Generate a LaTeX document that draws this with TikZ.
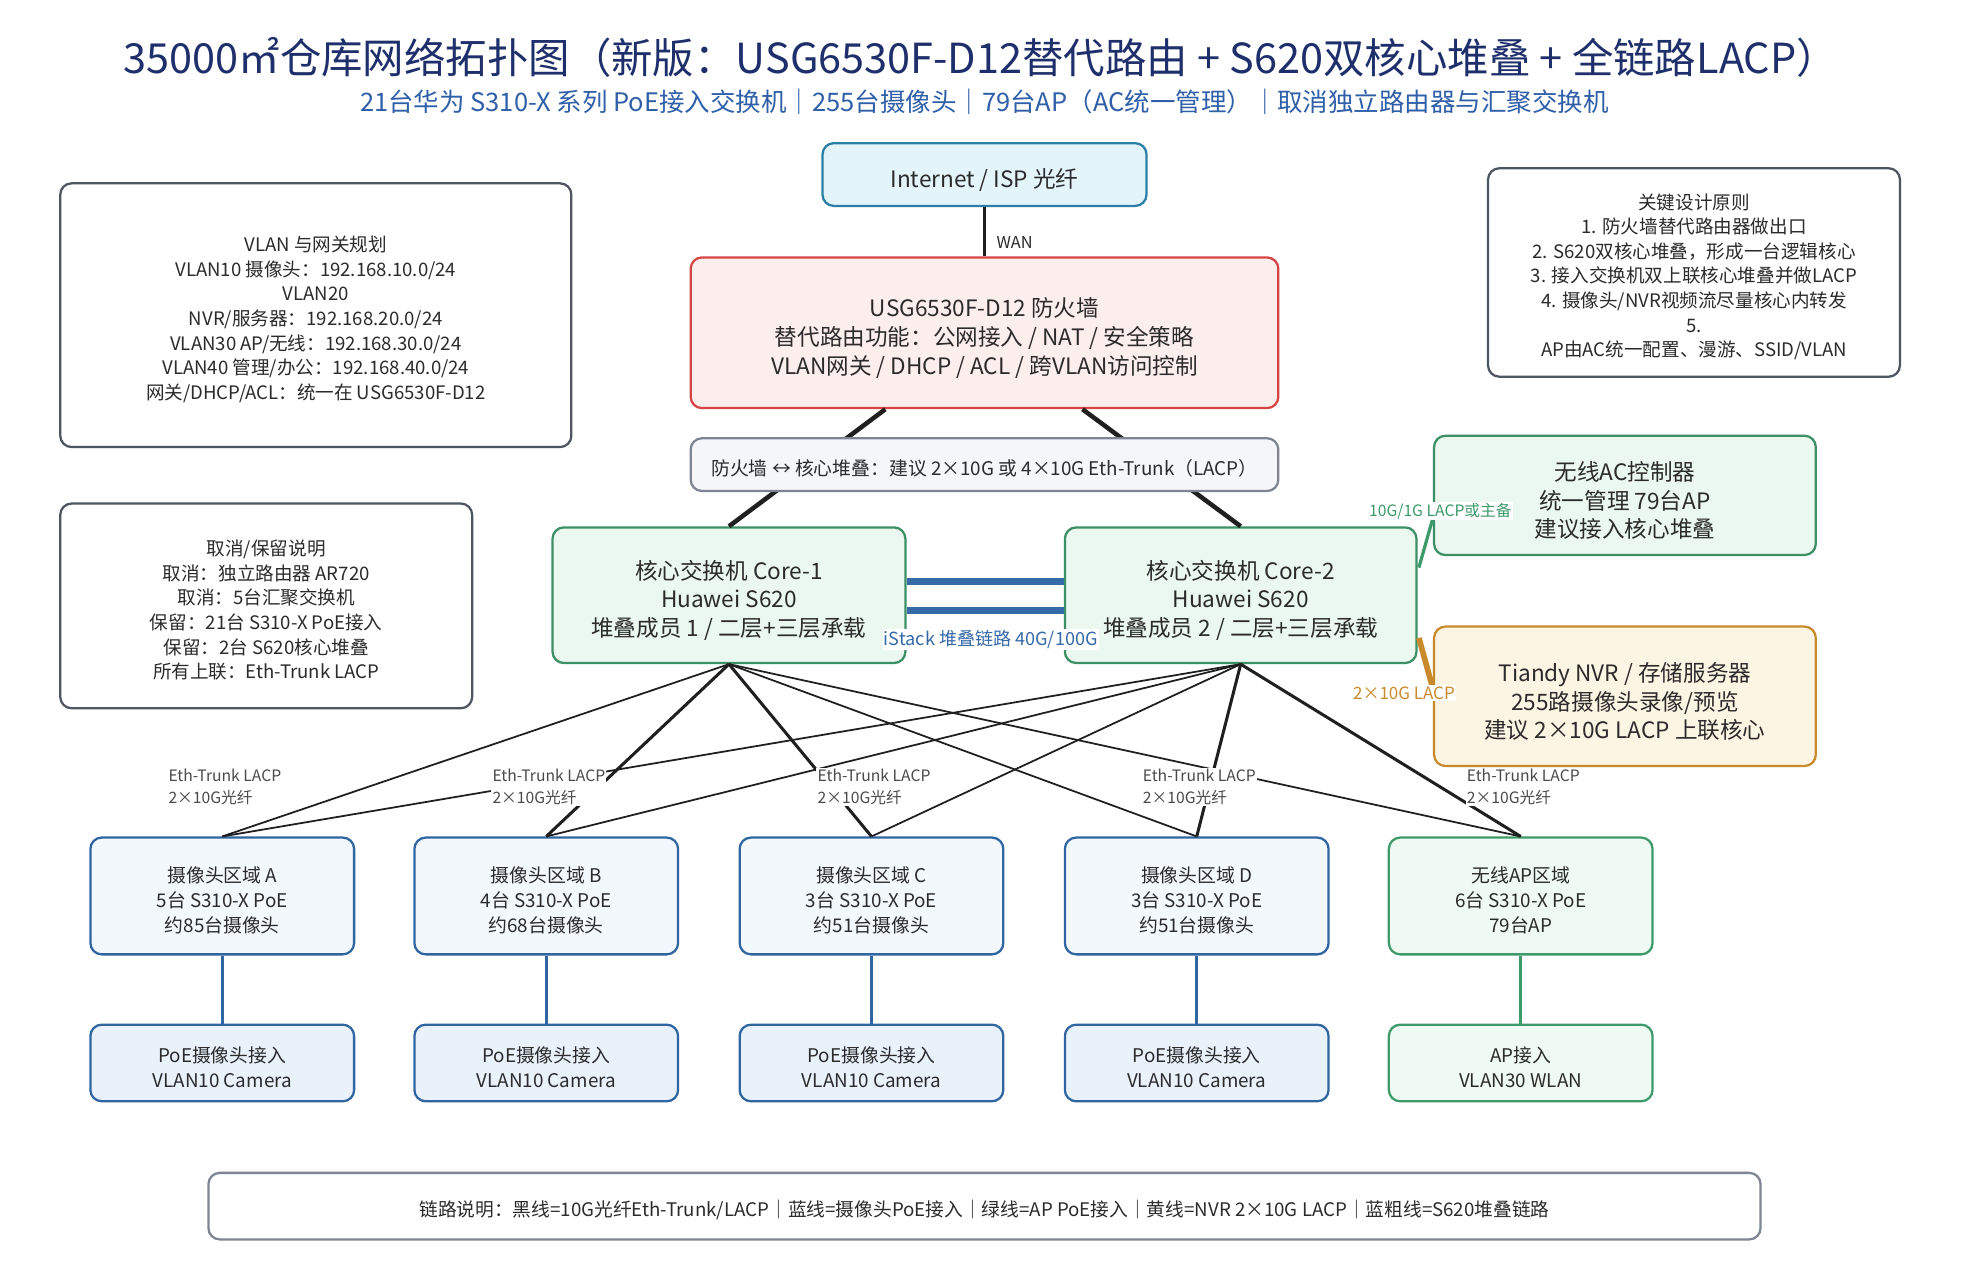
\documentclass[tikz,border=0pt]{standalone}
\usepackage{fontspec}
\setmainfont{Noto Sans CJK SC}
\usetikzlibrary{calc}
\definecolor{titlec}{HTML}{1F2F6B}
\definecolor{subc}{HTML}{2E5FA8}
\definecolor{txt}{HTML}{2B2B2B}
\definecolor{inetfill}{HTML}{E4F4FB}
\definecolor{inetedge}{HTML}{2A7FA6}
\definecolor{fwfill}{HTML}{FDEEEE}
\definecolor{fwedge}{HTML}{D64545}
\definecolor{linkfill}{HTML}{F4F6FA}
\definecolor{linkedge}{HTML}{7D8592}
\definecolor{grfill}{HTML}{EAF8F0}
\definecolor{gredge}{HTML}{3D8F66}
\definecolor{nvrfill}{HTML}{FDF5E4}
\definecolor{nvredge}{HTML}{C98A2C}
\definecolor{zonefill}{HTML}{F3F8FD}
\definecolor{accfill}{HTML}{E9F2FB}
\definecolor{zoneedge}{HTML}{2F65A0}
\definecolor{apfill}{HTML}{EEFAF2}
\definecolor{apedge}{HTML}{3D9A6A}
\definecolor{infoedge}{HTML}{4F5661}
\definecolor{stackc}{HTML}{3569A8}
\definecolor{lblc}{HTML}{4A4A4A}
\newcommand\myfs[2]{\fontsize{#1}{#2}\selectfont}
\newcommand\up{\rule{0pt}{1.3em}}
\begin{document}
\begin{tikzpicture}[x=1pt,y=-1pt,
  box/.style={draw, rounded corners=9pt, line width=1.8pt, inner sep=0pt, align=center, text=txt, font=\myfs{18}{23}},
  info/.style={box, draw=infoedge, fill=white, font=\myfs{14.8}{19.6}},
  zonebox/.style={box, draw=zoneedge, fill=zonefill, minimum width=210pt, minimum height=93pt, font=\myfs{15}{20}},
  apbox/.style={zonebox, draw=apedge, fill=apfill},
  accbox/.style={box, draw=zoneedge, fill=accfill, minimum width=210pt, minimum height=61pt, font=\myfs{15}{20}},
  apaccbox/.style={accbox, draw=apedge, fill=apfill},
  trunk/.style={line width=1.4pt, draw=black!88},
  trunkb/.style={line width=2.4pt, draw=black!88},
  elabel/.style={fill=white, inner sep=1pt, align=left, text=lblc, font=\myfs{12.5}{18}, anchor=north west},
  vline/.style={line width=2.6pt, draw=zoneedge},
  gline/.style={line width=2.6pt, draw=apedge}
]
\useasboundingbox[fill=white] (0,0) rectangle (1568,1019);

% titles
\node[text=titlec, font=\myfs{33}{38}] (title) at (781,46) {35000㎡仓库网络拓扑图（新版：USG6530F-D12替代路由 + S620双核心堆叠 + 全链路LACP）};
\node[text=subc, font=\myfs{20.3}{24}] (sub) at (784,81) {21台华为 S310-X 系列 PoE接入交换机｜255台摄像头｜79台AP（AC统一管理）｜取消独立路由器与汇聚交换机};

% main nodes
\node[box, draw=inetedge, fill=inetfill, minimum width=258pt, minimum height=50pt] (inet) at (784,139) {\up Internet / ISP 光纤};
\node[box, draw=fwedge, fill=fwfill, minimum width=468pt, minimum height=120pt] (fw) at (784,265) {\up USG6530F-D12 防火墙\\替代路由功能：公网接入 / NAT / 安全策略\\VLAN网关 / DHCP / ACL / 跨VLAN访问控制};
\node[box, draw=gredge, fill=grfill, minimum width=281pt, minimum height=108pt] (core1) at (580.5,474) {\up 核心交换机 Core-1\\Huawei S620\\堆叠成员 1 / 二层+三层承载};
\node[box, draw=gredge, fill=grfill, minimum width=280pt, minimum height=108pt] (core2) at (988,474) {\up 核心交换机 Core-2\\Huawei S620\\堆叠成员 2 / 二层+三层承载};
\node[box, draw=gredge, fill=grfill, minimum width=304pt, minimum height=95pt] (ac) at (1294,394.5) {\up 无线AC控制器\\统一管理 79台AP\\建议接入核心堆叠};
\node[box, draw=nvredge, fill=nvrfill, minimum width=304pt, minimum height=111pt] (nvr) at (1294,554.5) {\up Tiandy NVR / 存储服务器\\255路摄像头录像/预览\\建议 2×10G LACP 上联核心};

% info boxes
\node[info, minimum width=407pt, minimum height=210pt] (vlan) at (251.5,251) {\up VLAN 与网关规划\\VLAN10 摄像头：192.168.10.0/24\\VLAN20\\NVR/服务器：192.168.20.0/24\\VLAN30 AP/无线：192.168.30.0/24\\VLAN40 管理/办公：192.168.40.0/24\\网关/DHCP/ACL：统一在 USG6530F-D12};
\node[info, minimum width=328pt, minimum height=163pt] (cancel) at (212,482.5) {\up 取消/保留说明\\取消：独立路由器 AR720\\取消：5台汇聚交换机\\保留：21台 S310-X PoE接入\\保留：2台 S620核心堆叠\\所有上联：Eth-Trunk LACP};
\node[info, minimum width=328pt, minimum height=166pt] (rules) at (1349,217) {\up 关键设计原则\\1. 防火墙替代路由器做出口\\2. S620双核心堆叠，形成一台逻辑核心\\3. 接入交换机双上联核心堆叠并做LACP\\4. 摄像头/NVR视频流尽量核心内转发\\5.\\AP由AC统一配置、漫游、SSID/VLAN};

% zones
\node[zonebox] (za) at (177,713.5) {\up 摄像头区域 A\\5台 S310-X PoE\\约85台摄像头};
\node[zonebox] (zb) at (435,713.5) {\up 摄像头区域 B\\4台 S310-X PoE\\约68台摄像头};
\node[zonebox] (zc) at (694,713.5) {\up 摄像头区域 C\\3台 S310-X PoE\\约51台摄像头};
\node[zonebox] (zd) at (953,713.5) {\up 摄像头区域 D\\3台 S310-X PoE\\约51台摄像头};
\node[apbox] (zap) at (1211,713.5) {\up 无线AP区域\\6台 S310-X PoE\\79台AP};

\node[accbox] (aa) at (177,846.5) {\up PoE摄像头接入\\VLAN10 Camera};
\node[accbox] (ab) at (435,846.5) {\up PoE摄像头接入\\VLAN10 Camera};
\node[accbox] (ac2) at (694,846.5) {\up PoE摄像头接入\\VLAN10 Camera};
\node[accbox] (ad) at (953,846.5) {\up PoE摄像头接入\\VLAN10 Camera};
\node[apaccbox] (aap) at (1211,846.5) {\up AP接入\\VLAN30 WLAN};

% footer
\node[box, draw=linkedge, fill=white, minimum width=1236pt, minimum height=53pt, font=\myfs{14.9}{18}] (foot) at (784,960.5) {\up 链路说明：黑线=10G光纤Eth-Trunk/LACP｜蓝线=摄像头PoE接入｜绿线=AP PoE接入｜黄线=NVR 2×10G LACP｜蓝粗线=S620堆叠链路};

% connectors
\draw[line width=3pt, draw=black!88] (inet.south) -- (fw.north);
\node[text=txt, font=\myfs{13}{16}] (wan) at (808,193) {WAN};

\coordinate (fwl) at ($(fw.south)+(-79,0)$);
\coordinate (fwr) at ($(fw.south)+(78,0)$);
\draw[line width=3.6pt, draw=black!88] (fwl) -- (core1.north);
\draw[line width=3.6pt, draw=black!88] (fwr) -- (core2.north);
\node[box, draw=linkedge, fill=linkfill, minimum width=468pt, minimum height=42pt, font=\myfs{15}{18}] (link) at (784,370) {\up 防火墙 ↔ 核心堆叠：建议 2×10G 或 4×10G Eth-Trunk（LACP）};

% stack
\draw[line width=6pt, draw=stackc] ($(core1.east)+(0,-11)$) -- ($(core2.west)+(0,-11)$);
\draw[line width=6pt, draw=stackc] ($(core1.east)+(0,12)$) -- ($(core2.west)+(0,12)$);

% AC / NVR
\coordinate (c2a) at ($(core2.east)+(1,-22)$);
\coordinate (aca) at ($(ac.west)+(0,18)$);
\draw[line width=2.6pt, draw=apedge] (c2a) -- (aca);
\coordinate (c2n) at ($(core2.east)+(1,34)$);
\coordinate (nvn) at ($(nvr.west)+(0,-6)$);
\draw[line width=4.5pt, draw=nvredge] (c2n) -- (nvn);

% trunk lines
\draw[trunk] (core1.south) -- (za.north);
\draw[trunkb] (core1.south) -- (zb.north);
\draw[trunkb] (core1.south) -- (zc.north);
\draw[trunk] (core1.south) -- (zd.north);
\draw[trunk] (core1.south) -- (zap.north);
\draw[trunk] (core2.south) -- (za.north);
\draw[trunk] (core2.south) -- (zb.north);
\draw[trunk] (core2.south) -- (zc.north);
\draw[trunkb] (core2.south) -- (zd.north);
\draw[trunkb] (core2.south) -- (zap.north);

% vertical access lines
\draw[vline] (za.south) -- (aa.north);
\draw[vline] (zb.south) -- (ab.north);
\draw[vline] (zc.south) -- (ac2.north);
\draw[vline] (zd.south) -- (ad.north);
\draw[gline] (zap.south) -- (aap.north);

% labels
\node[elabel] (la) at (133,611) {Eth-Trunk LACP\\2×10G光纤};
\node[elabel] (lb) at (391,611) {Eth-Trunk LACP\\2×10G光纤};
\node[elabel] (lc) at (650,611) {Eth-Trunk LACP\\2×10G光纤};
\node[elabel] (ld) at (909,611) {Eth-Trunk LACP\\2×10G光纤};
\node[elabel] (lap) at (1167,611) {Eth-Trunk LACP\\2×10G光纤};

\node[fill=white, inner sep=1pt, text=stackc, font=\myfs{14.4}{16}] (stacklbl) at (789,509) {iStack 堆叠链路 40G/100G};
\node[fill=white, inner sep=1pt, text=apedge, font=\myfs{12.5}{15}] (aclbl) at (1147,407) {10G/1G LACP或主备};
\node[fill=white, inner sep=1pt, text=nvredge, font=\myfs{13.5}{16}] (nvrlbl) at (1118,552) {2×10G LACP};
\end{tikzpicture}
\end{document}
